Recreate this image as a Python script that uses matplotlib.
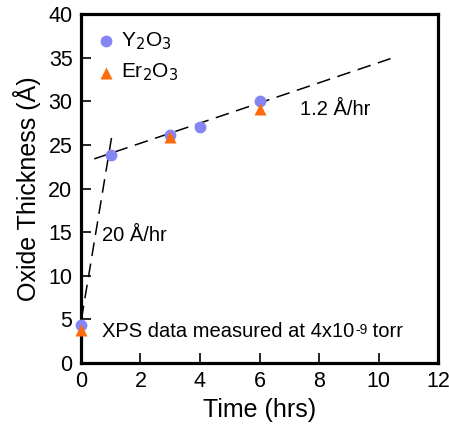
import matplotlib.pyplot as plt

plt.rcParams['font.family'] = ['Liberation Sans', 'DejaVu Sans']

# data
y2o3_t = [0, 1, 3, 4, 6]
y2o3_d = [4.3, 23.8, 26.1, 27.1, 30.0]
er2o3_t = [0, 3, 6]
er2o3_d = [3.8, 25.9, 29.1]

# fitted rate lines (endpoints)
fast_t = [0.02, 1.03]
fast_d = [5.0, 25.8]
slow_t = [0.45, 10.4]
slow_d = [23.4, 34.9]

xticks = [0, 2, 4, 6, 8, 10, 12]
yticks = [0, 5, 10, 15, 20, 25, 30, 35, 40]

fig = plt.figure(figsize=(4.49, 4.28), dpi=100)
ax = fig.add_axes([0.180, 0.152, 0.796, 0.815])

ax.plot(fast_t, fast_d, '--', color='black', lw=1.1, dashes=(9, 5))
ax.plot(slow_t, slow_d, '--', color='black', lw=1.1, dashes=(9, 5))
ax.plot(y2o3_t, y2o3_d, 'o', color='#8585f5', ms=8.5, mec='none', clip_on=False, zorder=3)
ax.plot(er2o3_t, er2o3_d, '^', color='#ff6a0a', ms=8.5, mec='none', clip_on=False, zorder=4)

# in-plot legend
ax.plot([0.85], [36.9], 'o', color='#8585f5', ms=8.5, mec='none')
ax.plot([0.85], [33.3], '^', color='#ff6a0a', ms=8.5, mec='none')
ax.text(1.35, 36.9, 'Y$_2$O$_3$', fontsize=15, va='center')
ax.text(1.35, 33.3, 'Er$_2$O$_3$', fontsize=15, va='center')

ax.text(7.35, 29.1, '1.2 Å/hr', fontsize=14.5, va='center')
ax.text(0.72, 14.6, '20 Å/hr', fontsize=14.5, va='center')

# note with a plain hyphen superscript, chained onto the previous piece
t1 = ax.text(0.72, 3.6, 'XPS data measured at 4x10', fontsize=14.5, va='center')
t2 = ax.annotate('-9', xy=(1, 1), xycoords=t1, xytext=(0.5, -1), textcoords='offset points',
                 fontsize=10, va='top', ha='left')
ax.annotate(' torr', xy=(1, 0.5), xycoords=(t2, t1), fontsize=14.5, va='center', ha='left')

ax.set_xlim(0, 12)
ax.set_ylim(0, 40)
ax.set_xticks(xticks)
ax.set_yticks(yticks)
ax.tick_params(direction='in', length=7, width=1.2, labelsize=15.5, pad=6)
for s in ax.spines.values():
    s.set_linewidth(2.3)
ax.set_xlabel('Time (hrs)', fontsize=18, labelpad=4)
ax.set_ylabel('Oxide Thickness (Å)', fontsize=18, labelpad=5)

fig.savefig('out.png', dpi=100)
